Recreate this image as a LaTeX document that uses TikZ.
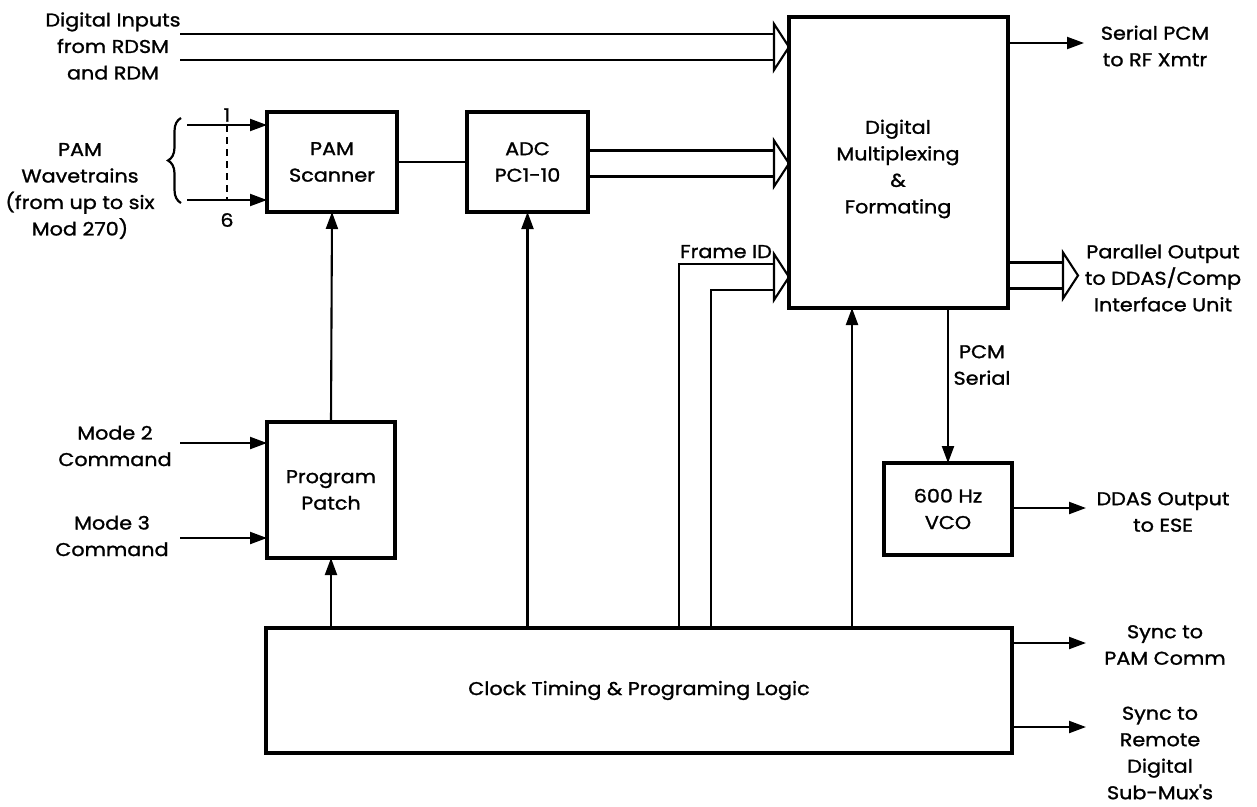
\documentclass[tikz,border=0pt]{standalone}
\usepackage{fontspec}
\setmainfont{Poppins}[FakeStretch=1.12, FakeBold=1.3, Ligatures=TeXOff]
\usetikzlibrary{arrows.meta,calc,decorations.pathreplacing}
\tikzset{
  box/.style={draw, line width=3.2pt, inner sep=0pt, outer sep=0pt, align=center},
  conn/.style={line width=2.1pt},
  arr/.style={conn, -{Triangle[length=17pt,width=12pt]}},
  lbl/.style={align=center, inner sep=0pt},
  every node/.style={font=\fontsize{18.5}{26.5}\selectfont},
}
\newcommand\bus[2]{%
  \draw[conn] ($(#1)+(0,-13)$) -- ($(#2)+(-15,-13)$) ($(#1)+(0,13)$) -- ($(#2)+(-15,13)$);
  \draw[conn, line join=miter] ($(#2)+(-15,-23)$) -- (#2) -- ($(#2)+(-15,23)$) -- cycle;}
\begin{document}
\begin{tikzpicture}[x=1pt,y=-1pt]
\useasboundingbox (0,0) rectangle (1257,806);
% boxes
\node[box, minimum width=219pt, minimum height=291pt] (mux) at (898.5,162.5) {};
\node[lbl] (muxt) at (898,169) {Digital\\Multiplexing\\\&\\Formating};
\node[box, minimum width=130pt, minimum height=100pt] (scan) at (332,162) {PAM\\Scanner};
\node[box, minimum width=121pt, minimum height=100pt] (adc) at (527.5,162) {ADC\\PC1-10};
\node[box, minimum width=128pt, minimum height=136pt] (patch) at (331,490) {Program\\Patch};
\node[box, minimum width=128pt, minimum height=92pt] (vco) at (948,509) {600 Hz\\VCO};
\node[box, minimum width=746pt, minimum height=125pt] (clock) at (639,690.5) {Clock Timing \& Programing Logic};
% labels
\node[lbl] (din) at (113,46) {Digital Inputs\\from RDSM\\and RDM};
\node[lbl] (pam) at (80,191) {PAM\\Wavetrains\\(from up to six\\Mod 270)};
\node[lbl] (m2) at (115,446) {Mode 2\\Command};
\node[lbl] (m3) at (112,536) {Mode 3\\Command};
\node[lbl] (spcm) at (1155,46) {Serial PCM\\to RF Xmtr};
\node[lbl] (par) at (1163,278) {Parallel Output\\to DDAS/Comp\\Interface Unit};
\node[lbl] (pcms) at (982,365) {PCM\\Serial};
\node[lbl] (ddas) at (1163,512) {DDAS Output\\to ESE};
\node[lbl] (s1) at (1165,645) {Sync to\\PAM Comm};
\node[lbl] (s2) at (1160,753) {Sync to\\Remote\\Digital\\Sub-Mux's};
\node[lbl, anchor=base west] (fid) at (680,258) {Frame ID};
\node[lbl] (one) at (227,115) {1};
\node[lbl] (six) at (227,220) {6};
% digital inputs bus
\coordinate (dinS) at (180,47);
\coordinate (dinT) at (mux.west |- dinS);
\bus{dinS}{dinT}
% ADC bus
\coordinate (adcS) at (adc.east |- 0,163.5);
\coordinate (adcT) at (mux.west |- adcS);
\bus{adcS}{adcT}
% parallel output bus
\coordinate (parS) at (mux.east |- 0,275.5);
\coordinate (parT) at (1078,275.5);
\bus{parS}{parT}
% frame ID bus
\coordinate (fidT) at (mux.west |- 0,277);
\draw[conn] (clock.north -| 679,0) |- ($(fidT)+(-15,-13)$);
\draw[conn] (clock.north -| 711,0) |- ($(fidT)+(-15,13)$);
\draw[conn, line join=miter] ($(fidT)+(-15,-23)$) -- (fidT) -- ($(fidT)+(-15,23)$) -- cycle;
% PAM inputs
\coordinate (p1) at (187,125);
\coordinate (p6) at (187,200);
\draw[arr] (p1) -- (p1 -| scan.west);
\draw[arr] (p6) -- (p6 -| scan.west);
\draw[conn, dashed, dash pattern=on 7pt off 5pt] (227,125) -- (227,200);
\draw[line width=2.2pt, decorate, decoration={brace, amplitude=13pt}] (181,203) -- (181,118);
% scanner to ADC
\draw[conn] (scan.east) -- (adc.west);
% program patch
\draw[arr] (patch.north) -- (scan.south);
\coordinate (m2e) at (180,443);
\coordinate (m3e) at (180,538);
\draw[arr] (m2e) -- (m2e -| patch.west);
\draw[arr] (m3e) -- (m3e -| patch.west);
% clock upward
\draw[arr] (clock.north -| patch.south) -- (patch.south);
\draw[arr] (clock.north -| adc.south) -- (adc.south);
\draw[arr] (clock.north -| 852,0) -- (mux.south -| 852,0);
% outputs
\coordinate (spcmE) at (1084,43);
\draw[arr] (mux.east |- spcmE) -- (spcmE);
\draw[arr] (mux.south -| vco.north) -- (vco.north);
\coordinate (ddasE) at (1086,508);
\draw[arr] (vco.east |- ddasE) -- (ddasE);
\coordinate (s1E) at (1086,643);
\coordinate (s2E) at (1086,727);
\draw[arr] (clock.east |- s1E) -- (s1E);
\draw[arr] (clock.east |- s2E) -- (s2E);
\end{tikzpicture}
\end{document}
